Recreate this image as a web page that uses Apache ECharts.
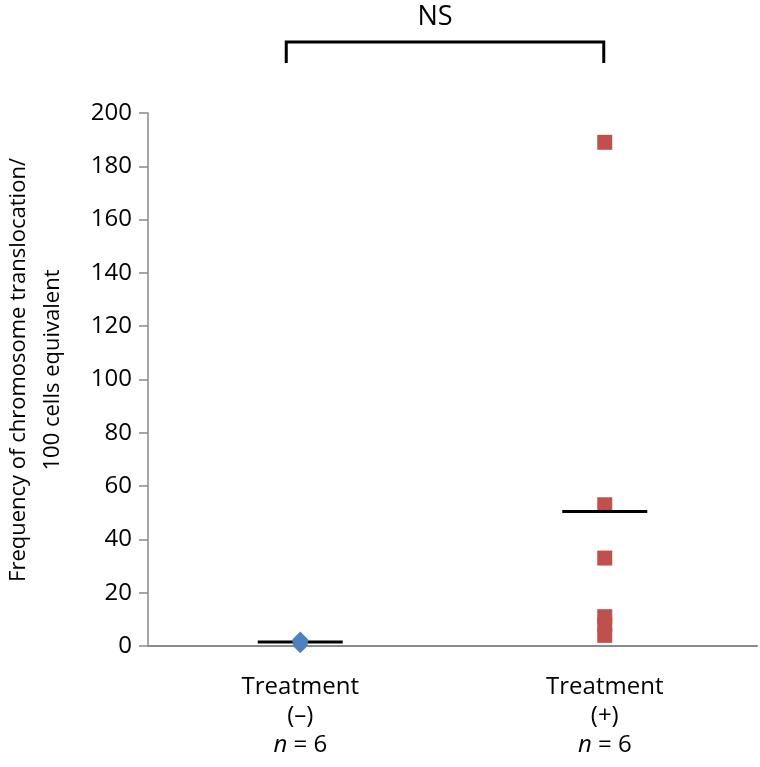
<!DOCTYPE html>
<html><head><meta charset="utf-8">
<script src="https://cdn.jsdelivr.net/npm/echarts@6/dist/echarts.min.js"></script>
<style>html,body{margin:0;padding:0;background:#fff}#c{width:760px;height:767px}</style>
</head><body><div id="c"></div>
<script>
const categories = ['Treatment (–)', 'Treatment (+)'];
const groupNames = ['(–)', '(+)'];
const nLabels = [6, 6];
const negValues = [0.3, 1, 1.5, 1.5, 2, 2.4];
const posValues = [189, 53, 33, 11, 8, 4];
const means = [1.5, 50.5];
const yTickLabels = [0, 20, 40, 60, 80, 100, 120, 140, 160, 180, 200];
const yTitle = 'Frequency of chromosome translocation/\n100 cells equivalent';
const sigLabel = 'NS';

const FONT = '"Open Sans"';
const chart = echarts.init(document.getElementById('c'), null, {renderer: 'canvas'});
const axisGray = '#8a8a8a';

chart.setOption({
  animation: false,
  backgroundColor: '#fff',
  grid: {left: 148, right: 3, top: 113, bottom: 121, containLabel: false},
  xAxis: {
    type: 'category',
    data: categories,
    boundaryGap: true,
    axisLine: {show: true, onZero: false, lineStyle: {color: axisGray, width: 2}},
    axisTick: {show: false},
    splitLine: {show: false},
    axisLabel: {
      margin: 27,
      fontFamily: FONT, fontSize: 24, color: '#000', lineHeight: 29,
      formatter: (v, i) => 'Treatment\n' + groupNames[i] + '\n{i|n} = ' + nLabels[i],
      rich: {i: {fontStyle: 'italic', fontFamily: FONT, fontSize: 24, color: '#000', lineHeight: 29}}
    }
  },
  yAxis: {
    type: 'value',
    min: yTickLabels[0], max: yTickLabels[yTickLabels.length - 1],
    interval: yTickLabels[1] - yTickLabels[0],
    axisLine: {show: true, lineStyle: {color: axisGray, width: 1.5}},
    axisTick: {show: true, inside: false, length: 9, lineStyle: {color: axisGray, width: 1.5}},
    splitLine: {show: false},
    axisLabel: {margin: 16, fontFamily: FONT, fontSize: 24, color: '#000'}
  },
  series: [
    {type: 'scatter', name: 'mean-', z: 2, symbol: 'rect', symbolSize: [85, 3],
     itemStyle: {color: '#000', opacity: 1}, data: [[0, means[0]]], silent: true},
    {type: 'scatter', name: 'neg', z: 3, symbol: 'diamond', symbolSize: [16, 16],
     itemStyle: {color: '#4F81BD', opacity: 1}, data: negValues.map(v => [0, v]), silent: true},
    {type: 'scatter', name: 'pos', z: 2, symbol: 'rect', symbolSize: 15,
     itemStyle: {color: '#C0504D', opacity: 1}, data: posValues.map(v => [1, v]), silent: true},
    {type: 'scatter', name: 'mean+', z: 4, symbol: 'rect', symbolSize: [85, 3],
     itemStyle: {color: '#000', opacity: 1}, data: [[1, means[1]]], silent: true}
  ]
});

const p0 = chart.convertToPixel({xAxisIndex: 0, yAxisIndex: 0}, [0, 0]);
const p1 = chart.convertToPixel({xAxisIndex: 0, yAxisIndex: 0}, [1, 0]);
const bx0 = p0[0] - 14, bx1 = p1[0] - 1, byTop = 42, byBot = 63;
chart.setOption({
  graphic: [
    {type: 'polyline', shape: {points: [[bx0, byBot], [bx0, byTop], [bx1, byTop], [bx1, byBot]]},
     style: {stroke: '#000', lineWidth: 3, fill: null}},
    {type: 'text', x: (bx0 + bx1) / 2 - 10, y: 17,
     style: {text: sigLabel, font: '27px ' + FONT, fill: '#000', align: 'center', verticalAlign: 'middle'}},
    {type: 'text', x: 36, y: 370, rotation: Math.PI / 2,
     style: {text: yTitle, font: '22px ' + FONT, fill: '#000', align: 'center', verticalAlign: 'middle', lineHeight: 34}}
  ]
});
</script></body></html>
